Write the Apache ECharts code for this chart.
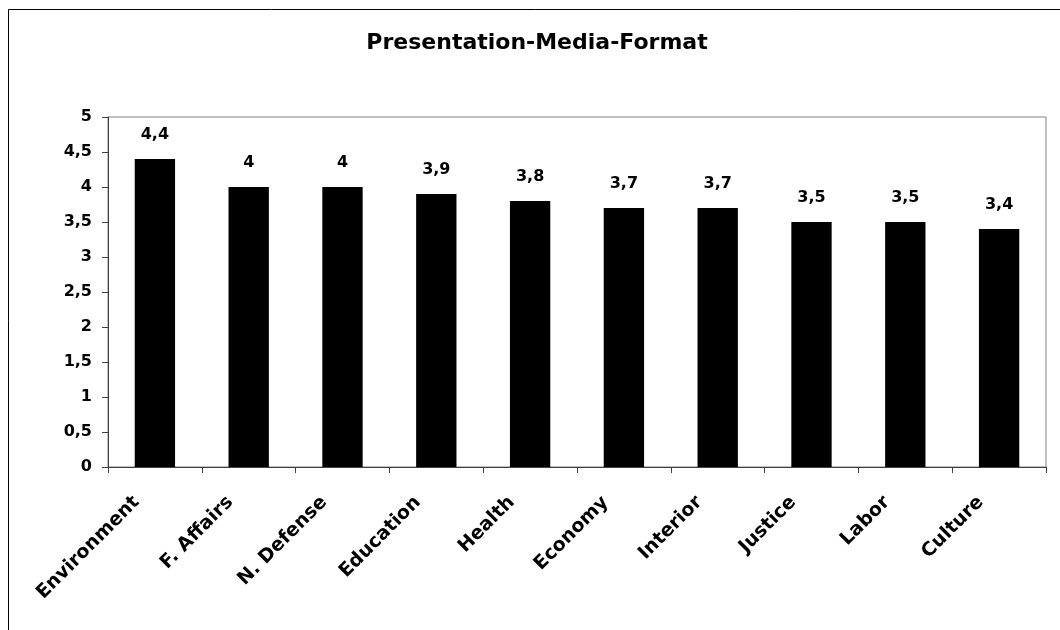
<!DOCTYPE html>
<html>
<head>
<meta charset="utf-8">
<script src="https://cdn.jsdelivr.net/npm/echarts@6/dist/echarts.min.js"></script>
<style>
html,body{margin:0;padding:0;background:#fff;}
#chart{width:1060px;height:630px;}
</style>
</head>
<body>
<div id="chart"></div>
<script>
var categories = ["Environment","F. Affairs","N. Defense","Education","Health","Economy","Interior","Justice","Labor","Culture"];
var values = [4.4, 4, 4, 3.9, 3.8, 3.7, 3.7, 3.5, 3.5, 3.4];
var titleText = "Presentation-Media-Format";

var FONT = "DejaVu Sans";
function comma(v){ return String(v).replace('.', ','); }

var chart = echarts.init(document.getElementById('chart'), null, {renderer:'canvas'});
chart.setOption({
  animation:false,
  backgroundColor:'#fff',
  title:{
    text:titleText,
    left:532, top:27, textAlign:'center',
    textStyle:{fontFamily:FONT,fontWeight:'bold',fontSize:22,color:'#000'}
  },
  graphic:[{
    type:'rect', left:6, top:7, silent:true,
    shape:{width:1100,height:700},
    style:{fill:null,stroke:'#000',lineWidth:1}
  }],
  grid:{left:108,right:14,top:117,bottom:163,show:true,borderColor:'#808080',borderWidth:1,backgroundColor:'transparent'},
  xAxis:{
    type:'category', data:categories,
    axisLine:{lineStyle:{color:'#404040',width:1}},
    axisTick:{show:true,alignWithLabel:false,length:6,lineStyle:{color:'#404040'}},
    axisLabel:{rotate:45,margin:14,interval:0,padding:[0,26,0,0],fontFamily:FONT,fontWeight:'bold',fontSize:19,color:'#000'}
  },
  yAxis:{
    type:'value', min:0, max:5, interval:0.5,
    splitLine:{show:false},
    axisLine:{show:true,lineStyle:{color:'#404040',width:1}},
    axisTick:{show:true,length:6,lineStyle:{color:'#404040'}},
    axisLabel:{margin:16,formatter:function(v){return comma(v);},fontFamily:FONT,fontWeight:'bold',fontSize:16,color:'#000'}
  },
  series:[{
    type:'bar', data:values, barWidth:'43%',
    itemStyle:{color:'#000'},
    label:{show:true,position:'top',distance:16,formatter:function(p){return comma(p.value);},
      fontFamily:FONT,fontWeight:'bold',fontSize:16,color:'#000'}
  }]
});
</script>
</body>
</html>
